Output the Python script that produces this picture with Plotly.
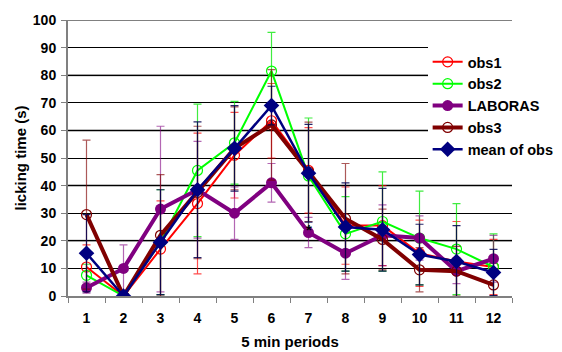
import plotly.graph_objects as go

periods = [str(i) for i in range(1, 13)]

obs1 = [10.5, 0, 17, 33.5, 51, 63.5, 45.5, 25.5, 25.5, 15.5, 12.5, 10.5]
obs1_err = [8, 0, 17.5, 25.5, 15.5, 13.5, 15.5, 14, 14.5, 12, 14.5, 10]
obs2 = [7.5, 0, 19.5, 45.5, 55.5, 81.5, 43.5, 22.5, 27, 21, 17, 10.5]
obs2_err = [4, 0, 19, 24, 15, 14, 21, 13.5, 18, 17, 16.5, 12]
laboras = [3, 10, 31.5, 38.5, 30, 41, 23, 15.5, 22, 21, 9, 13.5]
laboras_err = [2, 8.5, 30, 17.5, 9.5, 7, 5.5, 9.5, 11, 8, 4.5, 8.5]
obs3 = [29.5, 0, 22, 37.5, 53.5, 62, 45, 28, 20.5, 9.5, 9, 4]
obs3_err = [27, 0, 22, 24, 15, 20, 18, 20, 11, 8, 9, 4]
mean_obs = [15.5, 0, 19.5, 38.5, 53.5, 69, 44.5, 25, 24, 15, 12.5, 8.5]
mean_err = [14, 0, 19, 24.6, 15.5, 7, 17.7, 16, 15, 11, 13, 8.4]

FONT = "Liberation Sans, Arial, sans-serif"

series = [
    ("obs1", obs1, obs1_err, "#FF0000", "rgba(255,0,0,0.7)", 2,
     dict(symbol="circle-open", size=10, line=dict(width=1.2))),
    ("obs2", obs2, obs2_err, "#00FF00", "rgba(0,230,0,0.75)", 2,
     dict(symbol="circle-open", size=10, line=dict(width=1.2))),
    ("LABORAS", laboras, laboras_err, "#800080", "rgba(128,0,128,0.6)", 4,
     dict(symbol="circle", size=11)),
    ("obs3", obs3, obs3_err, "#800000", "rgba(128,0,0,0.65)", 4,
     dict(symbol="circle-open", size=10, line=dict(width=1.2))),
    ("mean of obs", mean_obs, mean_err, "#000080", "rgba(0,0,80,0.85)", 2.5,
     dict(symbol="diamond", size=12)),
]

fig = go.Figure()
for name, vals, err, color, ecolor, lw, mk in series:
    fig.add_trace(go.Scatter(
        x=periods, y=vals, name="<b>" + name + "</b>", mode="lines+markers",
        line=dict(color=color, width=lw),
        marker=dict(color=color, **mk),
        error_y=dict(type="data", array=err, visible=True, color=ecolor, thickness=1.2, width=4),
    ))

# alternating grid lines (gray at 20s, black at 10s)
for v in range(20, 101, 20):
    fig.add_shape(type="line", xref="paper", yref="y", x0=0, x1=1, y0=v, y1=v,
                  line=dict(color="#808080", width=2), layer="between")

fig.add_annotation(x="6", y=24, text="<b>*</b>", showarrow=False,
                   font=dict(family=FONT, size=15, color="black"))

fig.update_layout(
    width=554, height=344,
    margin=dict(l=60, r=50, t=12, b=56, autoexpand=False),
    paper_bgcolor="white", plot_bgcolor="white",
    font=dict(family=FONT, size=14, color="black"),
    showlegend=True,
    legend=dict(x=0.81, y=0.906, xanchor="left", yanchor="top",
                bgcolor="white", font=dict(family=FONT, size=14.5, color="black"),
                itemwidth=30, tracegroupgap=0),
    xaxis=dict(
        type="category", range=[-0.5, 11.5], automargin=False,
        tickson="boundaries", ticks="outside", ticklen=5, tickcolor="#808080",
        showline=True, linecolor="#808080", linewidth=2,
        showgrid=False, ticklabelstandoff=8,
        tickprefix="<b>", ticksuffix="</b>",
        tickfont=dict(family=FONT, size=14),
        title=dict(text="<b>5 min periods</b>", font=dict(family=FONT, size=15), standoff=12),
    ),
    yaxis=dict(
        range=[0, 100], dtick=10, tick0=0, automargin=False,
        ticks="outside", ticklen=5, tickcolor="#808080",
        showline=True, linecolor="#808080", linewidth=2,
        showgrid=True, gridcolor="black", gridwidth=1, zeroline=False,
        ticklabelstandoff=2,
        tickprefix="<b>", ticksuffix="</b>",
        tickfont=dict(family=FONT, size=14),
        title=dict(text="<b>licking time (s)</b>", font=dict(family=FONT, size=15), standoff=3),
    ),
)

fig.write_html("out.html")
